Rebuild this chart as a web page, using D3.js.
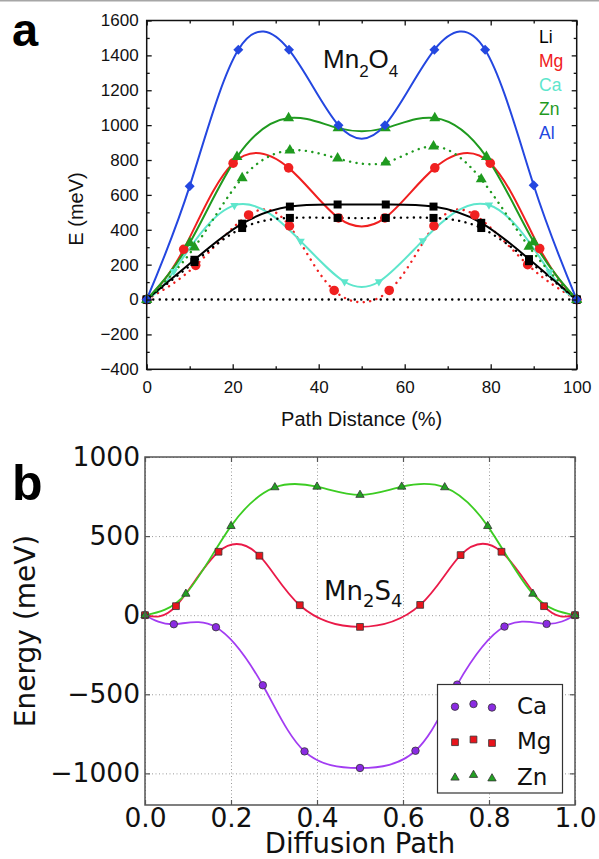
<!DOCTYPE html>
<html>
<head>
<meta charset="utf-8">
<script src="https://cdn.jsdelivr.net/npm/d3@7"></script>
<style>
  body { margin: 0; background: #fff; }
  svg { display: block; }
</style>
</head>
<body>
<svg id="chart" width="599" height="859"></svg>
<script>
// ---------- Panel a: Mn2O4 migration barriers (path distance %, energy meV) ----------
const liX     = [0, 11.1, 22.2, 33.3, 44.4, 55.6, 66.7, 77.8, 88.9, 100];
const liE     = [0, 228, 435, 533, 545, 545, 533, 440, 232, 0];
const liAltE  = [0, 215, 410, 468, 468, 468, 468, 410, 220, 0];
const mgX     = [0, 8.6, 20.1, 33, 44.6, 55.4, 67, 79.9, 91.4, 100];
const mgE     = [0, 288, 782, 755, 468, 468, 755, 782, 292, 0];
const mgAltX  = [0, 11.4, 23.7, 33.2, 43.6, 56.4, 66.8, 76.3, 88.6, 100];
const mgAltE  = [0, 196, 485, 422, 52, 52, 422, 485, 200, 0];
const caX     = [0, 6.3, 20.4, 35.8, 46, 54, 64.2, 79.6, 93.7, 100];
const caE     = [0, 162, 540, 335, 102, 102, 338, 542, 158, 0];
const znX     = [0, 10, 21, 33, 44.5, 55.5, 67, 79, 90, 100];
const znE     = [0, 325, 818, 1041, 983, 983, 1041, 818, 330, 0];
const znAltX  = [0, 11.1, 22.2, 33.3, 44.4, 55.6, 66.7, 77.8, 88.9, 100];
const znAltE  = [0, 300, 696, 855, 809, 786, 878, 690, 303, 0];
const alX     = [0, 10, 21.3, 33.1, 44.6, 55.4, 66.9, 78.7, 90, 100];
const alE     = [0, 650, 1432, 1432, 1000, 1000, 1432, 1432, 655, 0];
const refX    = [0, 100];
const refE    = [0, 0];

const topLegend   = ["Li", "Mg", "Ca", "Zn", "Al"];
const topXTicks   = [0, 20, 40, 60, 80, 100];
const topXMinor   = [10, 30, 50, 70, 90];
const topYTicks   = [-400, -200, 0, 200, 400, 600, 800, 1000, 1200, 1400, 1600];
const topYMinor   = [-300, -100, 100, 300, 500, 700, 900, 1100, 1300, 1500];

// ---------- Panel b: Mn2S4 migration barriers (fractional path, energy meV) ----------
const s4CaX = [0, 0.067, 0.165, 0.274, 0.371, 0.5, 0.629, 0.726, 0.836, 0.934, 1.0];
const s4CaE = [0, -57, -76, -443, -861, -966, -857, -439, -72, -55, 0];
const s4MgX = [0, 0.072, 0.171, 0.266, 0.36, 0.5, 0.64, 0.734, 0.829, 0.928, 1.0];
const s4MgE = [0, 57, 401, 376, 63, -74, 65, 380, 401, 57, 0];
const s4ZnX = [0, 0.095, 0.2, 0.302, 0.4, 0.5, 0.597, 0.697, 0.797, 0.902, 1.0];
const s4ZnE = [0, 135, 563, 808, 812, 760, 812, 808, 563, 135, 0];

const botLegend = ["Ca", "Mg", "Zn"];
const botXTicks = [0, 0.2, 0.4, 0.6, 0.8, 1.0];
const botYTicks = [-1000, -500, 0, 500, 1000];

// ---------- helpers ----------
const zip = (xs, es) => xs.map((x, i) => [x, es[i]]);
const svg = d3.select("#chart");
const fontA = "'Liberation Sans', Arial, Helvetica, sans-serif";
const fontB = "'DejaVu Sans', Verdana, sans-serif";

// thin rule across the very top
svg.append("rect").attr("x", 0).attr("y", 0).attr("width", 599).attr("height", 1.5).attr("fill", "#a6a6a6");

// =====================================================================
// Panel a
// =====================================================================
const A = { left: 146.7, right: 576.7, top: 20.5, bottom: 369.3 };
const xa = d3.scaleLinear().domain([0, 100]).range([A.left, A.right]);
const ya = d3.scaleLinear().domain([-400, 1600]).range([A.bottom, A.top]);
const ga = svg.append("g");

svg.append("defs").append("clipPath").attr("id", "clipA")
  .append("rect").attr("x", A.left).attr("y", A.top)
  .attr("width", A.right - A.left).attr("height", A.bottom - A.top);

const colA = { Li: "#000000", Mg: "#f02020", Ca: "#5ee6cc", Zn: "#1f9a1f", Al: "#2447e0" };

const topSeries = [
  { pts: zip(refX, refE),     color: "#000", dotted: true,  marker: null },
  { pts: zip(mgAltX, mgAltE), color: colA.Mg, dotted: true,  marker: "circle" },
  { pts: zip(mgX, mgE),       color: colA.Mg, dotted: false, marker: "circle" },
  { pts: zip(caX, caE),       color: colA.Ca, dotted: false, marker: "down" },
  { pts: zip(liX, liAltE),    color: colA.Li, dotted: true,  marker: "square" },
  { pts: zip(liX, liE),       color: colA.Li, dotted: false, marker: "square" },
  { pts: zip(znAltX, znAltE), color: colA.Zn, dotted: true,  marker: "up" },
  { pts: zip(znX, znE),       color: colA.Zn, dotted: false, marker: "up" },
  { pts: zip(alX, alE),       color: colA.Al, dotted: false, marker: "diamond" }
];

const lineA = d3.line().x(d => xa(d[0])).y(d => ya(d[1])).curve(d3.curveNatural);
const curvesA = ga.append("g").attr("clip-path", "url(#clipA)");
topSeries.forEach(s => {
  const p = curvesA.append("path").attr("d", lineA(s.pts))
    .attr("fill", "none").attr("stroke", s.color);
  if (s.dotted) {
    p.attr("stroke-width", 2.4).attr("stroke-linecap", "round").attr("stroke-dasharray", "0.1 6.4");
  } else {
    p.attr("stroke-width", 2);
  }
});

const markerPath = {
  circle:  d3.symbol().type(d3.symbolCircle).size(72)(),
  square:  d3.symbol().type(d3.symbolSquare).size(64)(),
  up:      d3.symbol().type(d3.symbolTriangle).size(52)(),
  down:    d3.symbol().type(d3.symbolTriangle).size(30)(),
  diamond: d3.symbol().type(d3.symbolSquare).size(50)()
};
const markerRot = { circle: 0, square: 0, up: 0, down: 180, diamond: 45 };

topSeries.filter(s => s.marker).forEach(s => {
  ga.append("g").selectAll("path").data(s.pts).join("path")
    .attr("d", markerPath[s.marker])
    .attr("transform", d => `translate(${xa(d[0])},${ya(d[1])}) rotate(${markerRot[s.marker]})`)
    .attr("fill", s.color);
});

// axes: inward ticks on all four sides
function styleAxisA(g, withText) {
  g.select(".domain").remove();
  g.selectAll("line").attr("stroke", "#111").attr("stroke-width", 1.3);
  g.attr("font-family", fontA).attr("font-size", 17);
  if (withText) g.selectAll("text").attr("fill", "#111");
}
ga.append("g").attr("transform", `translate(${A.left},0)`)
  .call(d3.axisLeft(ya).tickValues(topYTicks).tickSize(-5).tickPadding(8).tickFormat(d3.format("d")))
  .call(g => styleAxisA(g, true));
ga.append("g").attr("transform", `translate(${A.left},0)`)
  .call(d3.axisLeft(ya).tickValues(topYMinor).tickSize(-3).tickFormat(""))
  .call(g => styleAxisA(g, false));
ga.append("g").attr("transform", `translate(${A.right},0)`)
  .call(d3.axisRight(ya).tickValues(topYTicks).tickSize(-5).tickFormat(""))
  .call(g => styleAxisA(g, false));
ga.append("g").attr("transform", `translate(${A.right},0)`)
  .call(d3.axisRight(ya).tickValues(topYMinor).tickSize(-3).tickFormat(""))
  .call(g => styleAxisA(g, false));
ga.append("g").attr("transform", `translate(0,${A.bottom})`)
  .call(d3.axisBottom(xa).tickValues(topXTicks).tickSize(-5).tickPadding(12).tickFormat(d3.format("d")))
  .call(g => styleAxisA(g, true));
ga.append("g").attr("transform", `translate(0,${A.bottom})`)
  .call(d3.axisBottom(xa).tickValues(topXMinor).tickSize(-3).tickFormat(""))
  .call(g => styleAxisA(g, false));
ga.append("g").attr("transform", `translate(0,${A.top})`)
  .call(d3.axisTop(xa).tickValues(topXTicks).tickSize(-5).tickFormat(""))
  .call(g => styleAxisA(g, false));
ga.append("g").attr("transform", `translate(0,${A.top})`)
  .call(d3.axisTop(xa).tickValues(topXMinor).tickSize(-3).tickFormat(""))
  .call(g => styleAxisA(g, false));

ga.append("rect").attr("x", A.left).attr("y", A.top)
  .attr("width", A.right - A.left).attr("height", A.bottom - A.top)
  .attr("fill", "none").attr("stroke", "#111").attr("stroke-width", 1.5);

// titles
ga.append("text").attr("x", (A.left + A.right) / 2).attr("y", 426)
  .attr("text-anchor", "middle").attr("font-family", fontA).attr("font-size", 20).attr("fill", "#111")
  .text("Path Distance (%)");
ga.append("text").attr("transform", `translate(83,209) rotate(-90)`)
  .attr("text-anchor", "middle").attr("font-family", fontA).attr("font-size", 20).attr("fill", "#111")
  .text("E (meV)");
ga.append("text").attr("x", 12).attr("y", 46).attr("font-family", fontA).attr("font-weight", "bold")
  .attr("font-size", 47).attr("fill", "#000").text("a");

const mnO = ga.append("text").attr("x", 323).attr("y", 68).attr("font-family", fontA)
  .attr("font-size", 26).attr("fill", "#111");
mnO.append("tspan").text("Mn");
mnO.append("tspan").attr("font-size", 17).attr("dy", 9).text("2");
mnO.append("tspan").attr("dy", -9).text("O");
mnO.append("tspan").attr("font-size", 17).attr("dy", 9).text("4");

ga.append("g").selectAll("text").data(topLegend).join("text")
  .attr("x", 539).attr("y", (d, i) => 42.5 + i * 24.1)
  .attr("font-family", fontA).attr("font-size", 17.5)
  .attr("fill", d => colA[d]).text(d => d);

// =====================================================================
// Panel b
// =====================================================================
const B = { left: 145, right: 575, top: 457, bottom: 805 };
const xb = d3.scaleLinear().domain([0, 1]).range([B.left, B.right]);
const yb = d3.scaleLinear().domain([-1200, 1000]).range([B.bottom, B.top]);
const gb = svg.append("g");

const colB = {
  Ca: { line: "#a23cf2", fill: "#8a2be2" },
  Mg: { line: "#ea1a48", fill: "#e8141c" },
  Zn: { line: "#3ccc22", fill: "#22a022" }
};

// dotted grid
gb.append("g").attr("transform", `translate(0,${B.bottom})`)
  .call(d3.axisBottom(xb).tickValues(botXTicks).tickSize(-(B.bottom - B.top)).tickFormat(""))
  .call(g => { g.select(".domain").remove(); g.selectAll("line").attr("stroke", "#9a9a9a").attr("stroke-width", 1).attr("stroke-dasharray", "1 2.5"); });
gb.append("g").attr("transform", `translate(${B.left},0)`)
  .call(d3.axisLeft(yb).tickValues(botYTicks).tickSize(-(B.right - B.left)).tickFormat(""))
  .call(g => { g.select(".domain").remove(); g.selectAll("line").attr("stroke", "#9a9a9a").attr("stroke-width", 1).attr("stroke-dasharray", "1 2.5"); });

const botSeries = [
  { name: "Ca", pts: zip(s4CaX, s4CaE), marker: "circle" },
  { name: "Mg", pts: zip(s4MgX, s4MgE), marker: "square" },
  { name: "Zn", pts: zip(s4ZnX, s4ZnE), marker: "up" }
];
const markerB = {
  circle: d3.symbol().type(d3.symbolCircle).size(44)(),
  square: d3.symbol().type(d3.symbolSquare).size(46)(),
  up:     d3.symbol().type(d3.symbolTriangle).size(30)()
};
const lineB = d3.line().x(d => xb(d[0])).y(d => yb(d[1])).curve(d3.curveNatural);
botSeries.forEach(s => {
  gb.append("path").attr("d", lineB(s.pts)).attr("fill", "none")
    .attr("stroke", colB[s.name].line).attr("stroke-width", 1.8);
});
botSeries.forEach(s => {
  gb.append("g").selectAll("path").data(s.pts).join("path")
    .attr("d", markerB[s.marker])
    .attr("transform", d => `translate(${xb(d[0])},${yb(d[1])})`)
    .attr("fill", colB[s.name].fill).attr("stroke", "#333").attr("stroke-width", 0.8);
});

function styleAxisB(g) {
  g.select(".domain").remove();
  g.selectAll("line").attr("stroke", "#555").attr("stroke-width", 1.2);
  g.attr("font-family", fontB).attr("font-size", 26.5);
  g.selectAll("text").attr("fill", "#111");
}
gb.append("g").attr("transform", `translate(${B.left},0)`)
  .call(d3.axisLeft(yb).tickValues(botYTicks).tickSize(-5).tickPadding(5).tickFormat(d3.format("d")))
  .call(styleAxisB);
gb.append("g").attr("transform", `translate(${B.right},0)`)
  .call(d3.axisRight(yb).tickValues(botYTicks).tickSize(-5).tickFormat(""))
  .call(styleAxisB);
gb.append("g").attr("transform", `translate(0,${B.bottom})`)
  .call(d3.axisBottom(xb).tickValues(botXTicks).tickSize(-5).tickPadding(3).tickFormat(d3.format(".1f")))
  .call(styleAxisB);
gb.append("g").attr("transform", `translate(0,${B.top})`)
  .call(d3.axisTop(xb).tickValues(botXTicks).tickSize(-5).tickFormat(""))
  .call(styleAxisB);

gb.append("rect").attr("x", B.left).attr("y", B.top)
  .attr("width", B.right - B.left).attr("height", B.bottom - B.top)
  .attr("fill", "none").attr("stroke", "#555").attr("stroke-width", 1.5);

// legend (lower right)
const leg = gb.append("g");
leg.append("rect").attr("x", 437.5).attr("y", 684.5).attr("width", 125).attr("height", 108.5)
  .attr("fill", "#fff").attr("stroke", "#333").attr("stroke-width", 1.2);
const legOffsets = [1.2, -1.5, 2];
botSeries.forEach((s, i) => {
  const cy = 705.5 + i * 35.5;
  [455, 473.5, 492].forEach((cx, j) => {
    leg.append("path").attr("d", markerB[s.marker])
      .attr("transform", `translate(${cx},${cy + legOffsets[j]})`)
      .attr("fill", colB[s.name].fill).attr("stroke", "#333").attr("stroke-width", 0.8);
  });
  leg.append("text").attr("x", 517).attr("y", cy + 8)
    .attr("font-family", fontB).attr("font-size", 23).attr("fill", "#111").text(botLegend[i]);
});

// titles
gb.append("text").attr("x", (B.left + B.right) / 2).attr("y", 852.5)
  .attr("text-anchor", "middle").attr("font-family", fontB).attr("font-size", 27.5).attr("fill", "#111")
  .text("Diffusion Path");
gb.append("text").attr("transform", `translate(35,${(B.top + B.bottom) / 2}) rotate(-90)`)
  .attr("text-anchor", "middle").attr("font-family", fontB).attr("font-size", 28).attr("fill", "#111")
  .text("Energy (meV)");
gb.append("text").attr("x", 12).attr("y", 500).attr("font-family", fontA).attr("font-weight", "bold")
  .attr("font-size", 50).attr("fill", "#000").text("b");

const mnS = gb.append("text").attr("x", 324).attr("y", 600).attr("font-family", fontB)
  .attr("font-size", 26).attr("fill", "#111");
mnS.append("tspan").text("Mn");
mnS.append("tspan").attr("font-size", 18).attr("dy", 7).text("2");
mnS.append("tspan").attr("dy", -7).text("S");
mnS.append("tspan").attr("font-size", 18).attr("dy", 7).text("4");
</script>
</body>
</html>
